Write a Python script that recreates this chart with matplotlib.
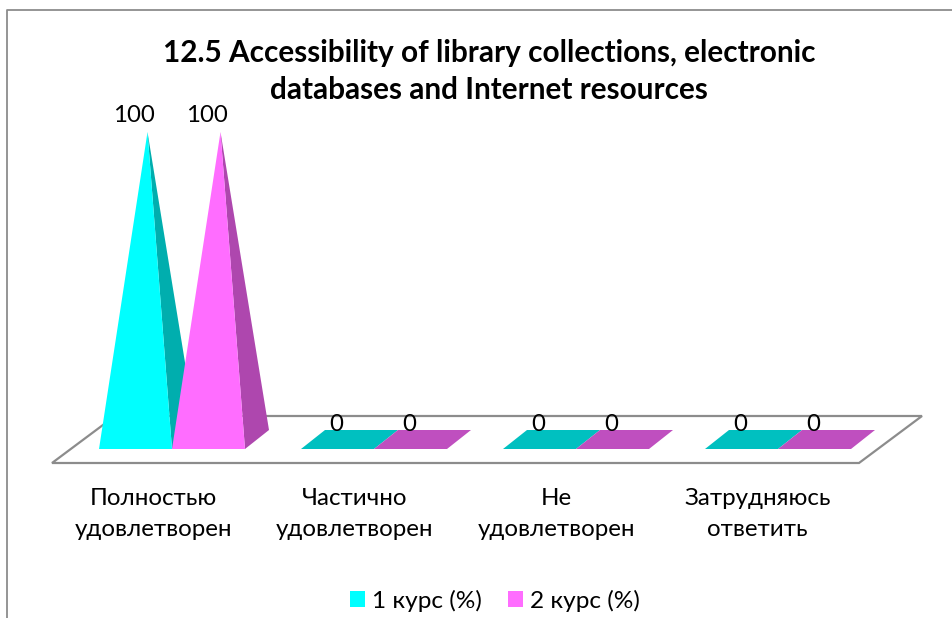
import matplotlib
matplotlib.use('Agg')
import matplotlib.pyplot as plt
from matplotlib.patches import Polygon, Patch

title = '12.5 Accessibility of library collections, electronic\ndatabases and Internet resources'
categories = ['Полностью\nудовлетворен', 'Частично\nудовлетворен', 'Не\nудовлетворен', 'Затрудняюсь\nответить']
series_names = ['1 курс (%)', '2 курс (%)']
course1 = [100, 0, 0, 0]
course2 = [100, 0, 0, 0]

plt.rcParams['font.family'] = ['Lato', 'Open Sans', 'DejaVu Sans']

# the 3d look is faked, everything is in picture pixels
base_y = 449
px_per_unit = 3.17
first_x = 99
group_step = 202
bar_w = 73
depth_x = 24
depth_y = 19

front_cols = ['#00FFFF', '#FF6DFF']
side_cols = ['#00AEAE', '#AE47AE']
flat_cols = ['#00C0C0', '#BF4FBF']
line_col = '#8C8C8C'


def val_y(v):
    return base_y - v * px_per_unit


def draw_bar(ax, left, v, k):
    right = left + bar_w
    if v == 0:
        ax.add_patch(Polygon([(left, base_y), (right, base_y),
                              (right + depth_x, base_y - depth_y), (left + depth_x, base_y - depth_y)],
                             fc=flat_cols[k], ec='none', zorder=3))
        label_y = val_y(v) - 24.5
    else:
        apex = (left + bar_w / 2 + depth_x / 2, val_y(v))
        ax.add_patch(Polygon([apex, (right, base_y), (right + depth_x, base_y - depth_y)],
                             fc=side_cols[k], ec='none', zorder=3 + k))
        ax.add_patch(Polygon([apex, (left, base_y), (right, base_y)],
                             fc=front_cols[k], ec='none', zorder=3 + k))
        label_y = val_y(v) - 16.5
    ax.text(left + bar_w / 2 - 1.5, label_y, str(v), ha='center', va='center', fontsize=17.3, color='black', zorder=6)


fig = plt.figure(figsize=(9.53, 6.18), dpi=100)
ax = fig.add_axes([0, 0, 1, 1])
ax.set_xlim(0, 953)
ax.set_ylim(618, 0)
ax.axis('off')

# chart frame, only left and top are visible in the crop
ax.plot([7.5, 7.5, 953], [618, 9.5, 9.5], color=line_col, lw=1.3, zorder=1)

# floor
ax.add_patch(Polygon([(52, 463), (859, 463), (922, 416), (115, 416)], fc='white', ec=line_col, lw=1.6, zorder=2))

for i in range(len(categories)):
    x0 = first_x + i * group_step
    draw_bar(ax, x0, course1[i], 0)
    draw_bar(ax, x0 + bar_w, course2[i], 1)
    ax.text(153.5 + i * 201.3, 514, categories[i], ha='center', va='center', fontsize=17.4, linespacing=1.56)

ax.text(489, 71.5, title, ha='center', va='center', fontsize=21.45, fontweight='bold', linespacing=1.38)

handles = [Patch(fc=front_cols[0], ec='none'), Patch(fc=front_cols[1], ec='none')]
ax.legend(handles, series_names, ncol=2, frameon=False, loc='center', bbox_to_anchor=(495 / 953, 1 - 601 / 618),
          fontsize=17.6, handlelength=0.625, handleheight=0.625, handletextpad=0.3, columnspacing=1.05)

fig.savefig('out.png', dpi=100)
